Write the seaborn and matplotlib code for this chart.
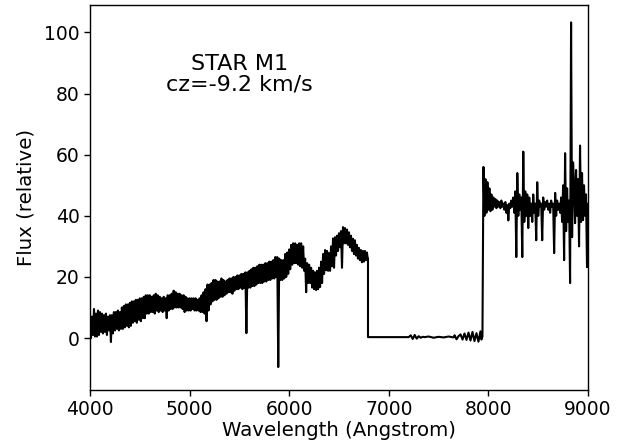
import numpy as np
import pandas as pd
import matplotlib
matplotlib.use("Agg")
import matplotlib.pyplot as plt
import seaborn as sns

# Blue part: upper and lower edge of the noisy band, every 20 A from 4000 A
blue_start = 4000
blue_step = 20
flux_blue_top = [
    8, 7, 9.5, 8, 9, 8.5, 8, 7.5, 8, 7,
    7.5, 7.5, 8.5, 8.5, 9, 8.5, 10, 10.5, 11, 11,
    11.5, 12, 12, 12.5, 12.5, 13, 13, 13.5, 14, 14,
    14, 13.5, 14, 14.5, 14, 13.5, 13, 13.5, 13, 14,
    14, 14.5, 15.5, 15, 14.5, 14.5, 14, 14, 13.5, 13,
    13, 13, 13, 13, 12.5, 13, 14, 15, 16, 17.5,
    17.5, 18, 19, 19, 18.5, 18.5, 19.5, 19, 18.5, 19,
    19.5, 19.5, 20, 20, 20.5, 20.5, 21, 21, 21.5, 21.5,
    22, 22.5, 23, 23, 23.5, 24, 24, 24, 24.5, 24.5,
    25, 25, 25.5, 26.5, 26.5, 26, 25.5, 25.5, 27.5, 28,
    29, 30.5, 31, 31, 30.5, 31, 31, 30, 26, 24.5,
    24, 23, 22, 21.5, 22, 23, 25, 27.5, 28.8, 28.5,
    27.8, 30, 32.6, 33, 33.5, 34.3, 35, 36.3, 36, 35.5,
    34.6, 33.5, 32.5, 32, 30.5, 29.5, 28.8, 28.5, 28.5, 28,
]
flux_blue_bottom = [
    0, 1, 0.5, 0.5, 1, 2, 1.5, 2, 1, 2.5,
    -1.3, 1.5, 2.5, 3, 2.5, 3, 3, 3.5, 4, 3.5,
    4, 5, 5.5, 5, 6, 5.5, 6.5, 6.5, 8, 8,
    8.5, 8.5, 8, 9, 8.5, 9, 8.5, 9, 6.5, 9,
    9.5, 9.5, 10, 10, 10, 10, 9.5, 8.5, 9, 9,
    9, 9.5, 9, 9, 9, 8.5, 8.5, 8, 5.5, 9,
    11, 12, 12.5, 12.5, 13, 13.5, 13.5, 14, 14.5, 15,
    15, 14.5, 15.5, 16, 16, 16.5, 16, 16.5, 1.6, 16.5,
    16.5, 17, 17, 17.5, 18, 18, 18, 18.5, 18.5, 19,
    19, 19.5, 19.5, 20, -9.5, 19, 19, 19.5, 20, 21,
    22.5, 24, 24.5, 24.5, 24, 23.5, 23, 22, 15, 18,
    18, 16.5, 16, 15.7, 16, 16.7, 18, 21, 22.2, 22,
    22, 23.5, 23, 27, 28.5, 29.7, 23, 31, 31, 30.5,
    29.7, 28.5, 27.5, 27, 26, 25.5, 24.8, 25, 25.5, 25.5,
]

# Gap region (flat part), explicit points
wl_gap = [6791, 6791, 7200, 7220, 7240, 7260, 7280, 7300, 7320, 7340, 7360,
          7400, 7450, 7500, 7550, 7600, 7650, 7660, 7680, 7700, 7720, 7740,
          7760, 7780, 7800, 7820, 7840, 7860, 7880, 7900, 7920, 7930, 7940]
flux_gap = [26, 0.3, 0.3, 0.9, -0.3, 1.0, -0.2, 0.6, 0.1, 0.4, 0.3,
            0.5, 0.1, 0.4, 0.2, 0.5, 0.2, 0.9, -0.4, 0.6, 1.2, -0.5,
            1.5, -0.6, 1.8, -0.8, 2.0, -1.0, 1.6, -1.2, 2.2, -0.5, 0.5]

# Red part, 10 A sampling
red_start = 7950
red_step = 10
flux_red = [
    56, 40, 52, 41, 51, 42, 49, 41.5, 47, 42,
    46, 43, 45.5, 42.5, 45, 43, 44.5, 42.5, 45, 43,
    44, 42, 44.5, 41, 43.5, 38.5, 44, 42.5, 45, 43,
    46, 41, 48, 26.5, 54, 40, 47, 42, 46, 26.5,
    61, 38, 48, 40, 47, 36, 46, 40, 44, 38,
    47, 41, 44, 32, 51, 40, 45, 43, 44, 32,
    46, 42, 44.5, 43, 45, 42, 44, 41, 45, 43,
    44, 27.8, 47.5, 40, 45, 42, 44, 41, 46, 38,
    50, 25.5, 60.5, 35, 49, 38, 45, 18, 103.3, 33,
    57.5, 50, 37.6, 55, 40, 52, 30, 63, 38, 54,
    38.6, 50, 40, 47, 23.2, 44,
]

n_blue = len(flux_blue_top)
wl_blue = np.empty(2 * n_blue)
wl_blue[0::2] = blue_start + blue_step * np.arange(n_blue)
wl_blue[1::2] = blue_start + blue_step * np.arange(n_blue) + blue_step / 2
fl_blue = np.empty(2 * n_blue)
fl_blue[0::2] = flux_blue_top
fl_blue[1::2] = flux_blue_bottom

wl_red = red_start + red_step * np.arange(len(flux_red))

wl = np.concatenate([wl_blue, wl_gap, wl_red])
flux = np.concatenate([fl_blue, flux_gap, flux_red])
df = pd.DataFrame({"wl": wl, "flux": flux})

sns.set_style("ticks")
plt.rcParams["font.family"] = ["DejaVu Sans"]
plt.rcParams["text.color"] = "black"
plt.rcParams["axes.labelcolor"] = "black"

fig = plt.figure(figsize=(6.37, 4.46), dpi=100)
ax = fig.add_axes([0.1413, 0.1256, 0.7818, 0.8632])
sns.lineplot(data=df, x="wl", y="flux", estimator=None, sort=False,
             color="black", lw=1.5, ax=ax)

ax.set_xlim(4000, 9000)
ax.set_ylim(-17, 109)
ax.set_xticks([4000, 5000, 6000, 7000, 8000, 9000])
ax.set_yticks([0, 20, 40, 60, 80, 100])
ax.tick_params(labelsize=13.5, colors="black", length=4, width=1)
ax.set_xlabel("Wavelength (Angstrom)", fontsize=14.2, labelpad=1)
ax.set_ylabel("Flux (relative)", fontsize=14.2, labelpad=6)
for s in ax.spines.values():
    s.set_visible(True)
    s.set_color("black")
    s.set_linewidth(1)

ax.text(5500, 86.3, "STAR M1\ncz=-9.2 km/s", ha="center", va="center",
        fontsize=16, linespacing=1.05, color="black")

fig.savefig("out.png", dpi=100)
